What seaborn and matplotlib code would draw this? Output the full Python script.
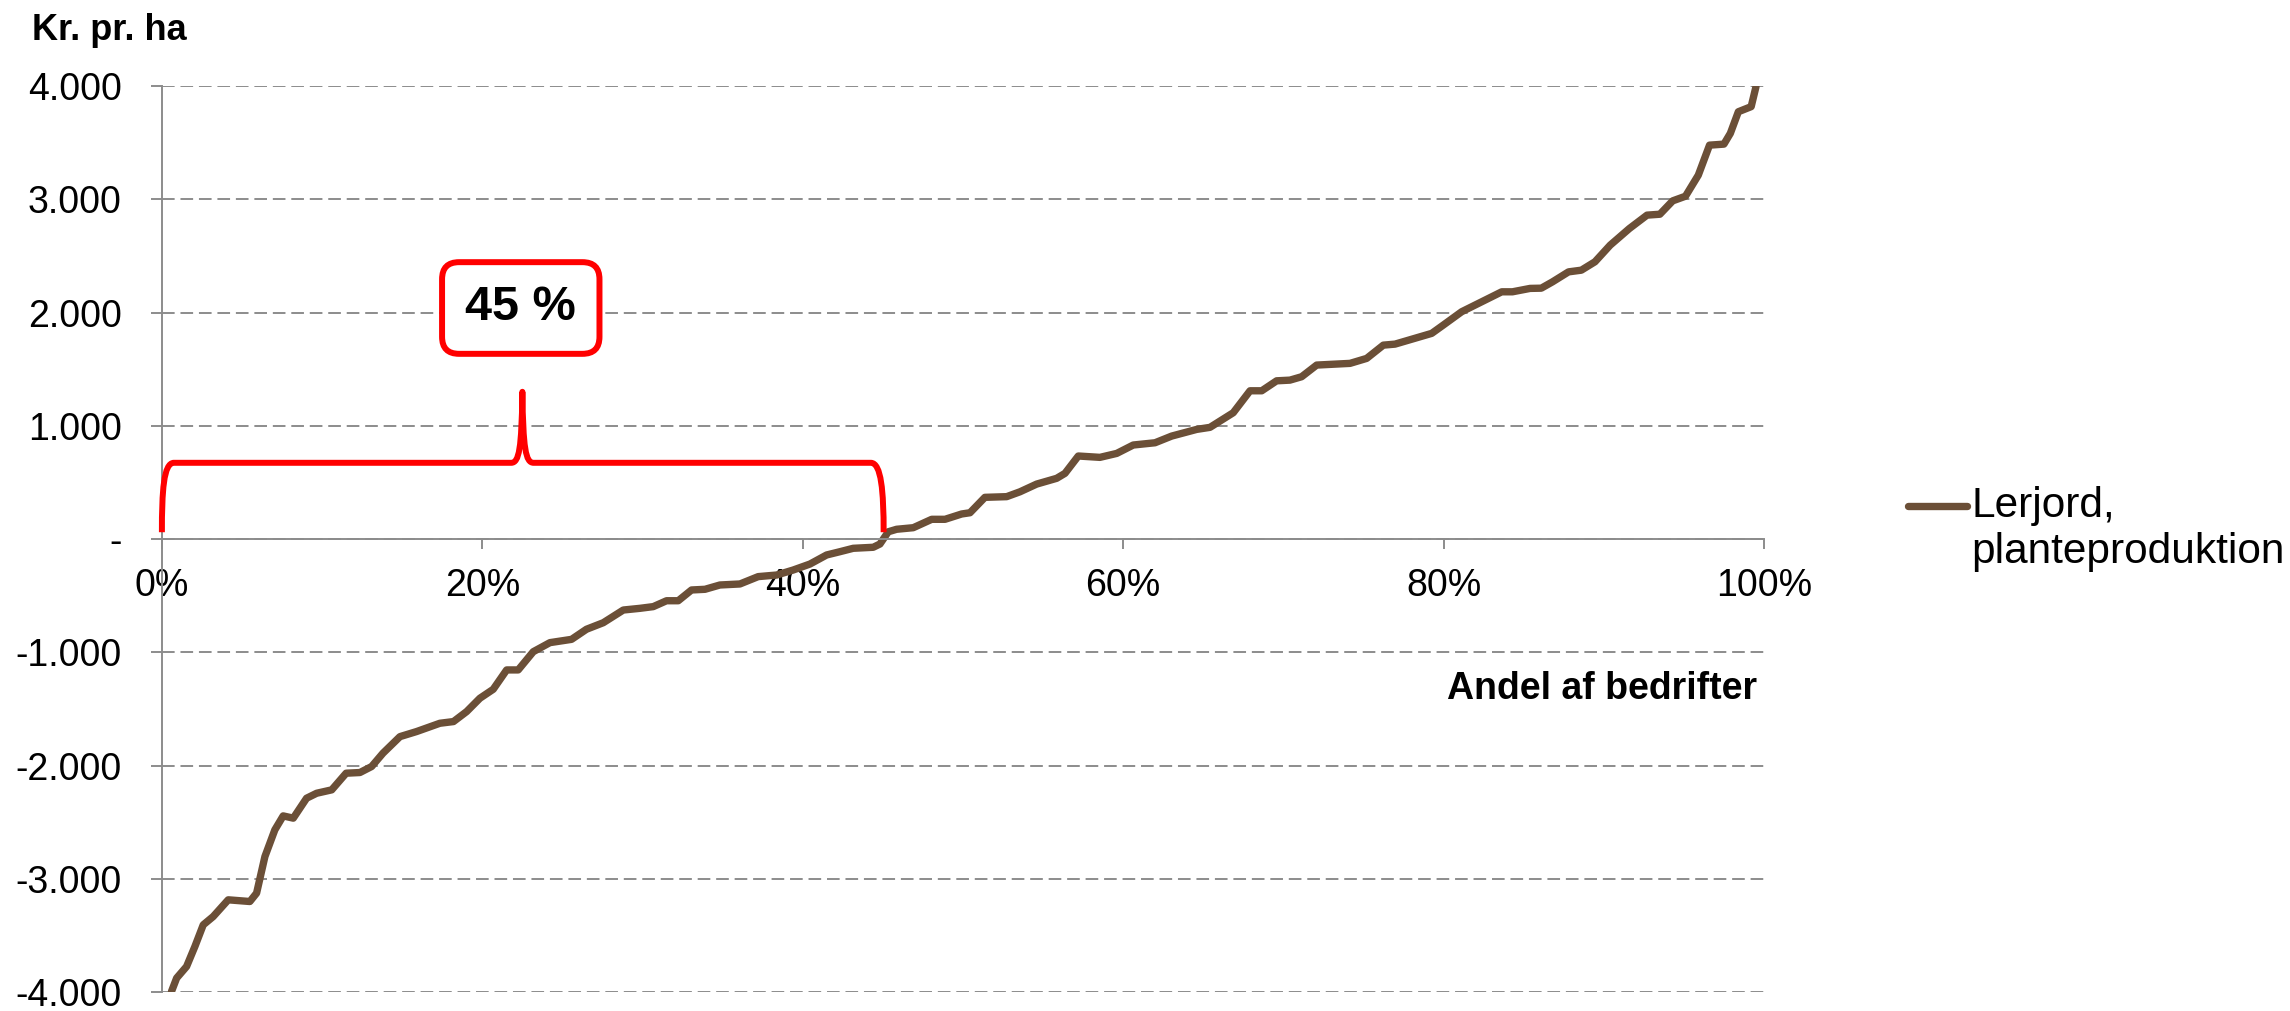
import matplotlib.pyplot as plt
import matplotlib.ticker as mticker
from matplotlib.path import Path
from matplotlib.patches import PathPatch
import numpy as np
import pandas as pd
import seaborn as sns

# share of farms (%) vs. result in kr. per ha
share_pct = [0.6, 0.92, 1.54, 2.06, 2.58, 3.2, 4.14, 5.49, 5.91, 6.43,
             7.05, 7.57, 8.2, 9.03, 9.66, 10.6, 11.5, 12.36, 13.09, 13.8,
             14.86, 15.9, 17.35, 18.2, 19.02, 19.85, 20.68, 21.52, 22.24, 23.18,
             24.22, 25.57, 26.5, 27.55, 28.8, 29.84, 30.67, 31.5, 32.23, 33.06,
             33.9, 34.83, 36.08, 37.22, 38.37, 39.4, 40.45, 41.49, 42.32, 43.15,
             44.4, 44.82, 45.34, 45.86, 46.9, 48.05, 48.88, 49.92, 50.44, 51.37,
             52.73, 53.56, 54.6, 55.85, 56.37, 57.2, 58.55, 59.6, 60.63, 61.99,
             63.03, 64.59, 65.42, 66.87, 67.92, 68.65, 69.58, 70.41, 71.14, 72.08,
             74.16, 75.2, 76.24, 76.97, 79.26, 79.98, 81.13, 82.58, 83.63, 84.3,
             85.4, 86.1, 86.8, 87.8, 88.6, 89.45, 90.4, 91.6, 92.7, 93.5,
             94.3, 95.1, 95.9, 96.6, 97.5, 97.9, 98.4, 99.2, 99.5]
kr_per_ha = [-3995, -3877, -3775, -3598, -3407, -3334, -3186, -3201, -3127, -2804,
             -2568, -2445, -2465, -2289, -2245, -2215, -2068, -2062, -2009, -1891,
             -1745, -1700, -1627, -1612, -1524, -1406, -1327, -1156, -1156, -995,
             -915, -886, -797, -739, -627, -612, -597, -545, -545, -450,
             -444, -406, -397, -332, -318, -274, -221, -141, -112, -82,
             -73, -44, 64, 86, 100, 174, 174, 221, 232, 368,
             374, 417, 485, 536, 580, 733, 721, 756, 830, 850,
             909, 968, 986, 1115, 1309, 1309, 1397, 1403, 1433, 1536,
             1551, 1595, 1712, 1721, 1816, 1889, 2007, 2109, 2183, 2183,
             2213, 2215, 2271, 2359, 2374, 2448, 2595, 2742, 2860, 2868,
             2986, 3027, 3213, 3478, 3487, 3582, 3773, 3818, 3994]
series_label = 'Lerjord,\nplanteproduktion'

x_ticks = [0, 20, 40, 60, 80, 100]
y_ticks = [-4000, -3000, -2000, -1000, 0, 1000, 2000, 3000, 4000]

bracket_end_pct = 45
bracket_label = '45 %'

sns.set_theme(style='white')
plt.rcParams['font.family'] = ['Liberation Sans', 'DejaVu Sans']
plt.rcParams['text.color'] = 'black'

line_color = '#6B4F37'
grid_color = '#8C8C8C'

fig = plt.figure(figsize=(22.9, 10.11), dpi=100)
ax = fig.add_axes([0.0707, 0.0188, 0.6996, 0.8961])

df = pd.DataFrame({'share': share_pct, 'kr': kr_per_ha})
sns.lineplot(data=df, x='share', y='kr', ax=ax, color=line_color,
             label=series_label)
for ln in ax.lines:
    ln.set_linewidth(5.3)
    ln.set_solid_capstyle('round')
    ln.set_solid_joinstyle('round')

ax.set_xlim(0, 100)
ax.set_ylim(-4000, 4000)
ax.set_xticks(x_ticks)
ax.set_yticks(y_ticks)
ax.xaxis.set_major_formatter(mticker.FuncFormatter(lambda v, p: f'{v:.0f}%'))


def kr_fmt(v, p):
    if v == 0:
        return '-'
    return f'{v:,.0f}'.replace(',', '.')


ax.yaxis.set_major_formatter(mticker.FuncFormatter(kr_fmt))
ax.set_xlabel('')
ax.set_ylabel('')

ax.grid(axis='y', color=grid_color, linewidth=1.4, linestyle=(0, (6.5, 3)))
ax.grid(axis='x', visible=False)
ax.set_axisbelow(True)
for s in ['top', 'right']:
    ax.spines[s].set_visible(False)
ax.spines['bottom'].set_position(('data', 0))
for s in ['bottom', 'left']:
    ax.spines[s].set_color(grid_color)
    ax.spines[s].set_linewidth(1.4)
ax.tick_params(axis='y', left=True, length=8, width=1.4, color=grid_color,
               pad=21, labelsize=27, labelcolor='black')
ax.tick_params(axis='x', bottom=True, direction='out', length=7, width=1.4,
               color=grid_color, pad=14, labelsize=27, labelcolor='black')

# curly bracket over the share of farms below zero
mid = bracket_end_pct / 2
top = 673
verts = [(0, 60), (0, 420), (0.1, top), (0.75, top),
         (mid - 0.7, top),
         (mid - 0.2, top), (mid - 0.05, 800), (mid, 1300),
         (mid + 0.05, 800), (mid + 0.2, top), (mid + 0.7, top),
         (bracket_end_pct - 0.75, top),
         (bracket_end_pct - 0.1, top), (bracket_end_pct + 0.05, 420), (bracket_end_pct + 0.05, 60)]
codes = [Path.MOVETO, Path.CURVE4, Path.CURVE4, Path.CURVE4,
         Path.LINETO,
         Path.CURVE4, Path.CURVE4, Path.CURVE4,
         Path.CURVE4, Path.CURVE4, Path.CURVE4,
         Path.LINETO,
         Path.CURVE4, Path.CURVE4, Path.CURVE4]
ax.add_patch(PathPatch(Path(verts, codes), fill=False, edgecolor='red', linewidth=4.3,
                       capstyle='butt', joinstyle='round', clip_on=False, zorder=4))

ax.text(mid - 0.1, 2040, bracket_label, ha='center', va='center', fontsize=35,
        fontweight='bold', color='black', zorder=5,
        bbox=dict(boxstyle='round,pad=0.48,rounding_size=0.35', fc='white',
                  ec='red', lw=4.3))

ax.text(99.6, -1324, 'Andel af bedrifter', ha='right', va='center',
        fontsize=27, fontweight='bold', color='black')
fig.text(32 / 2290, 1 - 40 / 1011, 'Kr. pr. ha', ha='left', va='baseline',
         fontsize=26, fontweight='bold', color='black')

leg = ax.legend(loc='upper left', bbox_to_anchor=(0.8332, 0.519),
                bbox_transform=fig.transFigure, frameon=False, fontsize=30.5,
                handlelength=1.4, handletextpad=0.1, borderpad=0, borderaxespad=0)
for t in leg.get_texts():
    t.set_color('black')
# Excel puts the legend key next to the first text line
for h in leg.legend_handles:
    h.set_linewidth(5.3)
    h.set_solid_capstyle('round')
    h.set_ydata(np.asarray(h.get_ydata()) + 17)

fig.savefig('out.png', dpi=100)
